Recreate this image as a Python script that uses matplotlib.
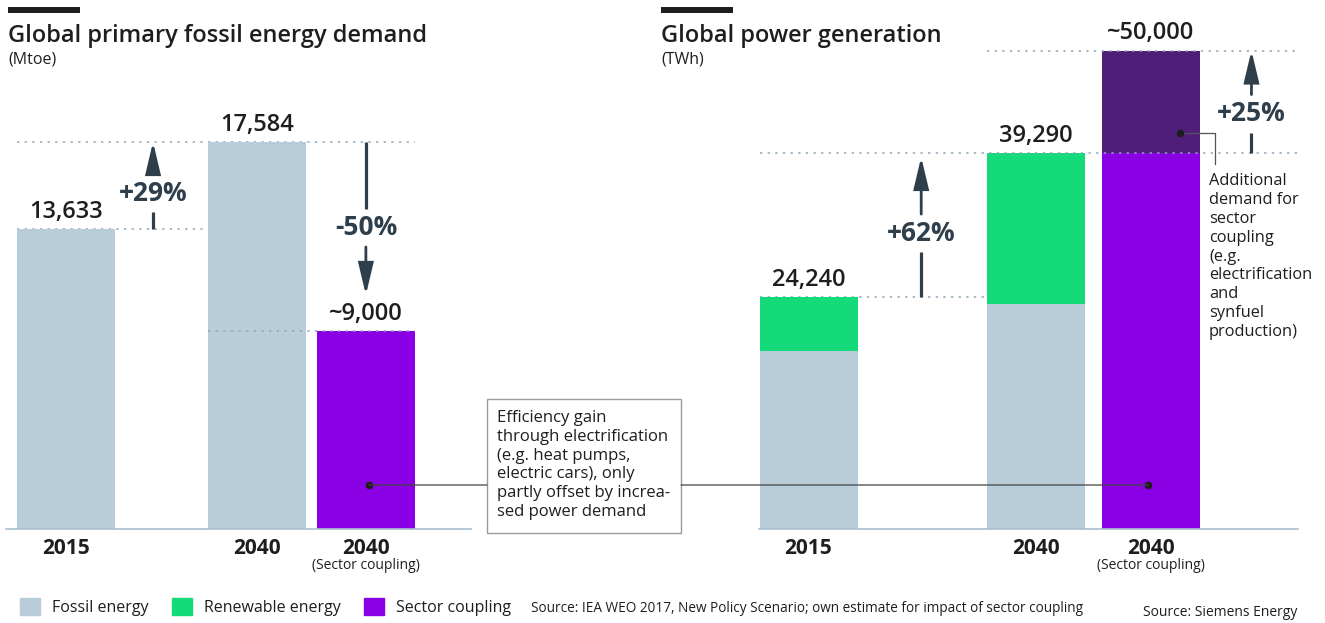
#!/usr/bin/env python3
"""
Sector coupling: fossil energy demand vs. power generation (two bar panels).
"""

import matplotlib
matplotlib.use("Agg")
import matplotlib.pyplot as plt
from matplotlib.patches import Patch, Rectangle, ConnectionPatch

plt.rcParams.update({
    "font.family": ["Open Sans", "DejaVu Sans"],
    "font.size": 12,
    "text.color": "#1E1E1E",
})

# ── colours ──
C_FOSSIL = "#B8CDD9"
C_RENEW = "#14DA79"
C_SECTOR = "#8A00E5"
C_EXTRA = "#4F1E78"
C_ARROW = "#2E3E4A"
C_DOT = "#8FA6B5"

W, H = 1325, 623

# ── data ──
LEFT_TICKS = ["2015", "2040", "2040"]
LEFT_FOSSIL = [13633, 17584, 0]
LEFT_SECTOR = [0, 0, 9000]
LEFT_TOTALS = ["13,633", "17,584", "~9,000"]

RIGHT_TICKS = ["2015", "2040", "2040"]
RIGHT_FOSSIL = [18600, 23500, 0]
RIGHT_RENEW = [5640, 15790, 0]
RIGHT_SECTOR = [0, 0, 39290]
RIGHT_EXTRA = [0, 0, 10710]
RIGHT_TOTALS = ["24,240", "39,290", "~50,000"]

LEGEND_LABELS = ["Fossil energy", "Renewable energy", "Sector coupling"]

# bar centres in bar-width units
LEFT_X = [0, 1.95, 3.06]
RIGHT_X = [0, 2.32, 3.49]


def fx(px):
    return px / W


def fy(py):
    return 1 - py / H


def px_to_data(ax, x, py):
    """pixel row (from top) -> data y at data x"""
    disp = ax.transData.transform((x, 0))
    return ax.transData.inverted().transform((disp[0], H - py))[1]


def split_arrow(ax, x, y0, y1, label, frac, tip_gap=0, gap=19):
    """vertical arrow from y0 to y1 with the label sitting in a gap of the shaft"""
    t = ax.transData
    p0 = t.transform((x, y0))[1]
    p1 = t.transform((x, y1))[1]
    pt = p0 + (p1 - p0) * frac
    sgn = 1 if p1 > p0 else -1
    inv = t.inverted()
    lo = inv.transform((0, pt - sgn * gap))[1]
    hi = inv.transform((0, pt + sgn * gap))[1]
    tip = inv.transform((0, p1 - sgn * tip_gap))[1]
    ymid = inv.transform((0, pt))[1]
    ax.plot([x, x], [y0, lo], color=C_ARROW, lw=2.3, solid_capstyle="butt", zorder=4)
    ax.annotate("", xy=(x, tip), xytext=(x, hi),
                arrowprops=dict(arrowstyle="-|>,head_length=1.6,head_width=0.38",
                                color=C_ARROW, lw=2.0, shrinkA=0, shrinkB=0,
                                joinstyle="miter"),
                zorder=4)
    ax.text(x, ymid, label, ha="center", va="center", fontsize=19,
            fontweight="bold", color=C_ARROW, zorder=5)


def hdots(ax, y, x0, x1, **kw):
    ax.plot([x0, x1], [y, y], color=C_DOT, lw=1.1, linestyle=(0, (1.5, 3.5)),
            zorder=kw.pop("zorder", 1), **kw)


def style_axis(ax, xs, ticks, sector_idx):
    for s in ["top", "right", "left"]:
        ax.spines[s].set_visible(False)
    ax.spines["bottom"].set_color("#A9BFCC")
    ax.spines["bottom"].set_linewidth(1.2)
    ax.set_yticks([])
    ax.set_xticks([])
    for i, (x, t) in enumerate(zip(xs, ticks)):
        ax.annotate(t, xy=(x, 0), xycoords="data", xytext=(0, -14),
                    textcoords="offset points", ha="center", va="center",
                    fontsize=15, fontweight="bold", color="#1E1E1E")
        if i == sector_idx:
            ax.annotate("(Sector coupling)", xy=(x, 0), xycoords="data",
                        xytext=(0, -26), textcoords="offset points",
                        ha="center", va="center", fontsize=10, color="#1E1E1E")


def total_labels(ax, xs, tops, labels):
    for x, top, lab in zip(xs, tops, labels):
        ax.annotate(lab, xy=(x, top), xytext=(0, 12.5), textcoords="offset points",
                    ha="center", va="center", fontsize=17, fontweight="semibold",
                    color="#1E1E1E")


fig = plt.figure(figsize=(W / 100, H / 100), dpi=100)

# ── left panel: fossil demand ──
axL = fig.add_axes([fx(6), fy(529), fx(471) - fx(6), fy(40) - fy(529)])
axL.set_xlim((6 - 66) / 98, (471 - 66) / 98)
axL.set_ylim(0, 489 * 45.44)
axL.bar(LEFT_X, LEFT_FOSSIL, width=1.0, color=C_FOSSIL, zorder=2)
axL.bar(LEFT_X, LEFT_SECTOR, width=1.0, bottom=LEFT_FOSSIL, color=C_SECTOR, zorder=2)
style_axis(axL, LEFT_X, LEFT_TICKS, 2)

left_tot = [f + s for f, s in zip(LEFT_FOSSIL, LEFT_SECTOR)]
total_labels(axL, LEFT_X, left_tot, LEFT_TOTALS)

hdots(axL, left_tot[0], LEFT_X[0] - 0.5, LEFT_X[1] - 0.5)
hdots(axL, left_tot[1], LEFT_X[0] - 0.5, LEFT_X[2] + 0.5)
hdots(axL, left_tot[2], LEFT_X[1] - 0.5, LEFT_X[2] + 0.5, zorder=3)

split_arrow(axL, 0.888, left_tot[0], left_tot[1], "+29%", 0.41)
split_arrow(axL, LEFT_X[2], left_tot[1], left_tot[2], "-50%", 0.455, tip_gap=36)

# ── right panel: power generation ──
axR = fig.add_axes([fx(759), fy(529), fx(1298) - fx(759), fy(40) - fy(529)])
axR.set_xlim((759 - 808.5) / 98, (1298 - 808.5) / 98)
axR.set_ylim(0, 489 * 104.5)
b1 = RIGHT_FOSSIL
b2 = [a + b for a, b in zip(b1, RIGHT_RENEW)]
b3 = [a + b for a, b in zip(b2, RIGHT_SECTOR)]
axR.bar(RIGHT_X, RIGHT_FOSSIL, width=1.0, color=C_FOSSIL, zorder=2)
axR.bar(RIGHT_X, RIGHT_RENEW, width=1.0, bottom=b1, color=C_RENEW, zorder=2)
axR.bar(RIGHT_X, RIGHT_SECTOR, width=1.0, bottom=b2, color=C_SECTOR, zorder=2)
axR.bar(RIGHT_X, RIGHT_EXTRA, width=1.0, bottom=b3, color=C_EXTRA, zorder=2)
style_axis(axR, RIGHT_X, RIGHT_TICKS, 2)

right_tot = [a + b for a, b in zip(b3, RIGHT_EXTRA)]
total_labels(axR, RIGHT_X, right_tot, RIGHT_TOTALS)

r_end = (1298 - 808.5) / 98
hdots(axR, right_tot[0], RIGHT_X[0] - 0.5, RIGHT_X[1] - 0.5)
hdots(axR, right_tot[1], RIGHT_X[0] - 0.5, r_end, zorder=3)
hdots(axR, right_tot[2], RIGHT_X[1] - 0.5, r_end, zorder=3)

split_arrow(axR, 1.15, right_tot[0], right_tot[1], "+62%", 0.444, tip_gap=4)
split_arrow(axR, 4.52, right_tot[1], right_tot[2], "+25%", 0.385)

# annotation for the extra sector-coupling demand
ya = px_to_data(axR, 0, 133)
yb = px_to_data(axR, 0, 164)
xa, xb = (1180 - 808.5) / 98, (1215 - 808.5) / 98
axR.plot([xa, xb, xb], [ya, ya, yb], color="#555555", lw=0.9, zorder=5)
axR.plot([xa], [ya], "o", color="#1E1E1E", ms=4.5, zorder=6)
axR.text((1209 - 808.5) / 98, px_to_data(axR, 0, 173),
         "Additional\ndemand for\nsector\ncoupling\n(e.g.\nelectrification\nand\nsynfuel\nproduction)",
         ha="left", va="top", fontsize=11.8, linespacing=1.24, color="#1E1E1E",
         clip_on=False)

# ── efficiency box between panels ──
fig.add_artist(Rectangle((fx(487), fy(533)), fx(681) - fx(487), fy(399) - fy(533),
                         transform=fig.transFigure, fill=False, ec="#9A9A9A", lw=1))
fig.text(fx(497), fy(410),
         "Efficiency gain\nthrough electrification\n(e.g. heat pumps,\n"
         "electric cars), only\npartly offset by increa-\nsed power demand",
         ha="left", va="top", fontsize=12, linespacing=1.23, color="#1E1E1E")

yl = px_to_data(axL, 0, 485)
yr = px_to_data(axR, 0, 485)
xl = (369 - 66) / 98
xr = (1148 - 808.5) / 98
fig.add_artist(ConnectionPatch(xyA=(xl, yl), coordsA=axL.transData,
                               xyB=(fx(487), fy(485)), coordsB=fig.transFigure,
                               color="#444444", lw=0.9, zorder=5))
fig.add_artist(ConnectionPatch(xyA=(fx(681), fy(485)), coordsA=fig.transFigure,
                               xyB=(xr, yr), coordsB=axR.transData,
                               color="#444444", lw=0.9, zorder=5))
axL.plot([xl], [yl], "o", color="#1E1E1E", ms=4.5, zorder=6)
axR.plot([xr], [yr], "o", color="#1E1E1E", ms=4.5, zorder=6)

# ── titles ──
for x0, title, unit in [(8, "Global primary fossil energy demand", "(Mtoe)"),
                        (661, "Global power generation", "(TWh)")]:
    fig.add_artist(Rectangle((fx(x0), fy(12.5)), fx(72), fy(7) - fy(12.5),
                             transform=fig.transFigure, color="#1E1E1E", lw=0))
    fig.text(fx(x0), fy(36), title, ha="left", va="center", fontsize=17,
             fontweight="semibold", color="#1E1E1E")
    fig.text(fx(x0), fy(59), unit, ha="left", va="center", fontsize=11.5,
             color="#1E1E1E")

# ── legend + sources ──
handles = [Patch(color=c) for c in [C_FOSSIL, C_RENEW, C_SECTOR]]
fig.legend(handles, LEGEND_LABELS, loc="center left",
           bbox_to_anchor=(fx(14), fy(607)), ncol=3, frameon=False,
           fontsize=11.5, handlelength=1.25, handleheight=1.25,
           handletextpad=0.75, columnspacing=1.45, borderaxespad=0)
fig.text(fx(531), fy(608),
         "Source: IEA WEO 2017, New Policy Scenario; own estimate for impact of sector coupling",
         ha="left", va="center", fontsize=9.8, color="#1E1E1E")
fig.text(fx(1297), fy(612), "Source: Siemens Energy", ha="right", va="center",
         fontsize=10, color="#1E1E1E")

fig.savefig("out.png", dpi=100)
plt.close(fig)
